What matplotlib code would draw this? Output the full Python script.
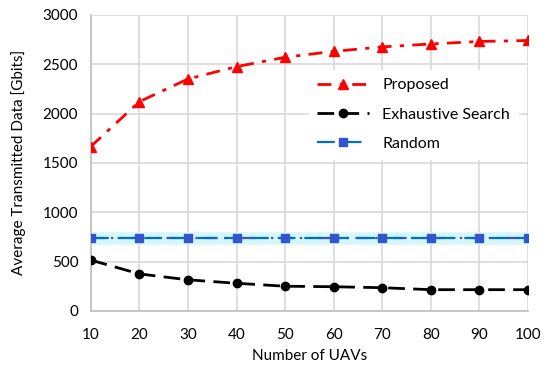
import matplotlib
matplotlib.use("Agg")
import matplotlib.pyplot as plt

plt.rcParams['font.family'] = ['Lato', 'DejaVu Sans']

# number of UAVs
uavs = [10, 20, 30, 40, 50, 60, 70, 80, 90, 100]
# average transmitted data [Gbits]
proposed = [1665, 2120, 2350, 2475, 2570, 2630, 2675, 2705, 2730, 2740]
exhaustive = [515, 375, 315, 280, 250, 245, 235, 215, 215, 215]
random_sel = [740, 740, 740, 740, 740, 740, 740, 740, 740, 740]

fig = plt.figure(figsize=(5.5, 3.71), dpi=100)
ax = fig.add_axes([0.165, 0.162, 0.795, 0.798])

grid_c = '#d9d9d9'
ax.grid(True, color=grid_c, linewidth=1.2)
ax.set_axisbelow(True)
for s in ['top', 'right']:
    ax.spines[s].set_visible(False)
for s in ['left', 'bottom']:
    ax.spines[s].set_color('#bfbfbf')
    ax.spines[s].set_linewidth(1.2)

# faint glow behind the random line
ax.plot(uavs, random_sel, color='#d6f7fa', linewidth=9, solid_capstyle='butt', zorder=2)
ax.plot(uavs, random_sel, color='#3355cc', linewidth=1.6, linestyle=(0, (6, 3, 1, 3, 1, 3)), zorder=3)
ax.plot(uavs, random_sel, color='#0070c0', linewidth=1.6, linestyle=(0, (8, 4)),
        marker='s', markersize=6, markerfacecolor='#3355cc', markeredgecolor='#3355cc',
        label='Random', zorder=4)
ax.plot(uavs, exhaustive, color='black', linewidth=2, linestyle=(0, (6, 3)),
        marker='o', markersize=6, label='Exhaustive Search', zorder=4)
ax.plot(uavs, proposed, color='#ff0000', linewidth=2, linestyle=(0, (5, 3, 1.5, 3)),
        marker='^', markersize=7, label='Proposed', zorder=5)

ax.set_xlim(10, 100)
ax.set_ylim(0, 3000)
ax.set_xticks(uavs)
ax.set_yticks(range(0, 3001, 500))
ax.tick_params(length=0, labelsize=11, colors='black', pad=9)
ax.tick_params(axis='x', pad=12)
ax.set_xlabel('Number of UAVs', fontsize=11, labelpad=5)
ax.set_ylabel('Average Transmitted Data [Gbits]', fontsize=11, labelpad=12)
for lab in ax.get_xticklabels() + ax.get_yticklabels():
    lab.set_clip_on(False)

h, l = ax.get_legend_handles_labels()
order = [2, 1, 0]
leg = ax.legend([h[i] for i in order], [l[i] for i in order], loc='upper right',
                bbox_to_anchor=(0.995, 0.84), frameon=True, fancybox=False,
                edgecolor='white', framealpha=1, fontsize=11.5, handlelength=3.3,
                labelspacing=0.95, borderpad=0.5)

fig.savefig('out.png', dpi=100)
